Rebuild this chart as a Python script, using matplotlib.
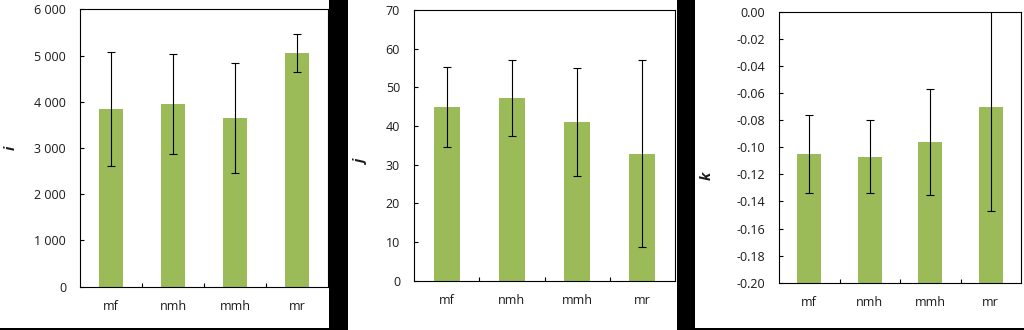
import matplotlib
matplotlib.use("Agg")
import matplotlib.pyplot as plt
from matplotlib.patches import Rectangle
from matplotlib.ticker import FuncFormatter, FixedLocator, MultipleLocator

plt.rcParams['font.family'] = ['Open Sans', 'DejaVu Sans']

categories = ["mf", "nmh", "mmh", "mr"]

i_mean = [3840, 3945, 3645, 5055]
i_err = [1240, 1085, 1185, 420]

j_mean = [45.0, 47.2, 41.0, 32.8]
j_err = [10.3, 9.9, 13.9, 24.2]

k_mean = [-0.105, -0.107, -0.096, -0.070]
k_err = [0.029, 0.027, 0.039, 0.077]

W, H = 1024, 330
green = "#9bbb59"
text_col = "#1a1a1a"

fig = plt.figure(figsize=(W / 100, H / 100), dpi=100, facecolor="black")

def px_rect(x0, y0, x1, y1):
    # pixel box (top-left origin) -> figure fraction rect
    return [x0 / W, 1 - y1 / H, (x1 - x0) / W, (y1 - y0) / H]

# white panel backgrounds
for box in [(0, 0, 329, 328), (348, 0, 677, 330), (695, 0, 1024, 328)]:
    r = px_rect(*box)
    fig.add_artist(Rectangle(r[:2], r[2], r[3], transform=fig.transFigure,
                             facecolor="white", edgecolor="none", zorder=0))

def thousands(v, pos):
    return "{:,}".format(int(round(v))).replace(",", " ")

def two_dec(v, pos):
    if abs(v) < 1e-9:
        v = 0.0
    return "{:.2f}".format(v)

panels = [
    dict(rect=(80, 9.3, 328, 286.7), mean=i_mean, err=i_err, lim=(0, 6000),
         step=1000, fmt=thousands, label="i", lx=11, ly=148),
    dict(rect=(414, 10, 675, 280.7), mean=j_mean, err=j_err, lim=(0, 70),
         step=10, fmt=lambda v, p: "%d" % round(v), label="j", lx=362, ly=162),
    dict(rect=(779, 11.7, 1021, 282.7), mean=k_mean, err=k_err, lim=(-0.2, 0.0),
         step=0.02, fmt=two_dec, label="k", lx=707, ly=176),
]

x = list(range(len(categories)))

for p in panels:
    x0, y0, x1, y1 = p["rect"]
    ax = fig.add_axes(px_rect(x0, y0, x1, y1))
    lo, hi = p["lim"]
    heights = [m - lo for m in p["mean"]]
    ax.bar(x, heights, bottom=lo, width=0.4, color=green, edgecolor="none", zorder=2)
    ax.errorbar(x, p["mean"], yerr=p["err"], fmt="none", ecolor="black",
                elinewidth=0.8, capsize=2.6, capthick=0.8, zorder=3)
    ax.set_xlim(-0.5, len(categories) - 0.5)
    ax.set_ylim(lo, hi)
    ax.yaxis.set_major_locator(MultipleLocator(p["step"]))
    ax.yaxis.set_major_formatter(FuncFormatter(p["fmt"]))
    ax.set_xticks(x)
    ax.set_xticklabels(categories)
    ax.xaxis.set_minor_locator(FixedLocator([0.5, 1.5, 2.5]))
    ax.tick_params(axis="x", which="major", length=0, pad=9.5, labelsize=9,
                   labelcolor=text_col)
    ax.tick_params(axis="x", which="minor", direction="in", length=3, width=0.8)
    ax.tick_params(axis="y", direction="in", length=3, width=0.8, pad=10,
                   labelsize=9, labelcolor=text_col)
    for s in ax.spines.values():
        s.set_linewidth(0.8)
        s.set_color("black")
    ax.set_ylabel(p["label"], fontsize=10.5, fontweight="bold", fontstyle="italic",
                  color=text_col)
    ax.yaxis.label.set_va("center")
    ax.yaxis.set_label_coords((p["lx"] - x0) / (x1 - x0), (y1 - p["ly"]) / (y1 - y0))

fig.savefig("out.png", dpi=100, facecolor=fig.get_facecolor())
